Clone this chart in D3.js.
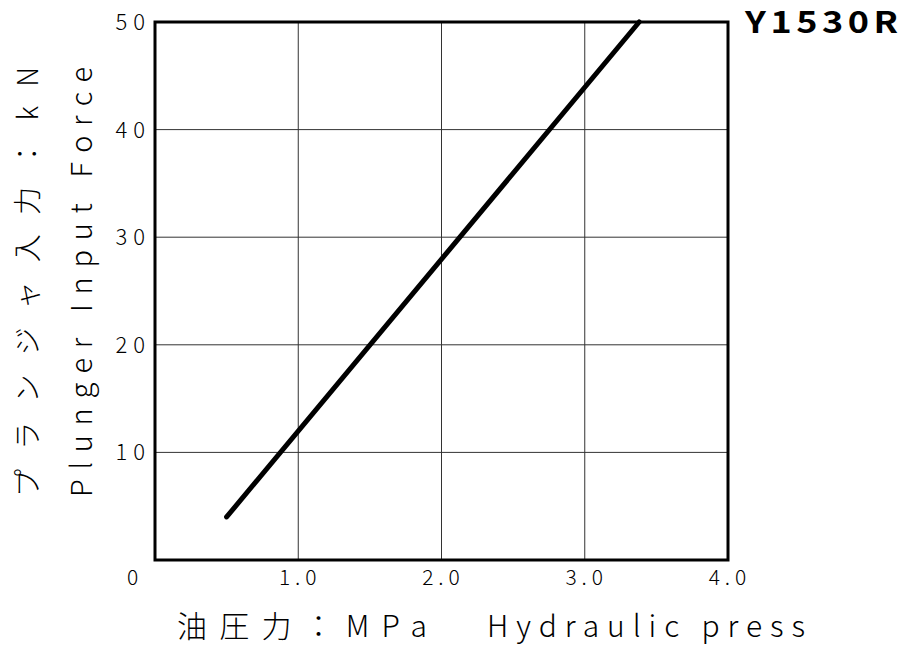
<!DOCTYPE html>
<html>
<head>
<meta charset="utf-8">
<script src="https://cdn.jsdelivr.net/npm/d3@7"></script>
<style>
  html, body { margin: 0; padding: 0; background: #fff; }
  svg { display: block; }
  text { font-family: "Noto Sans CJK JP", "DejaVu Sans", sans-serif; fill: #000; }
</style>
</head>
<body>
<svg id="chart" width="905" height="653"></svg>
<script>
// Hydraulic pressure (MPa) vs plunger input force (kN)
const pressure = [0.5, 3.38];
const force = [4, 50];
const xTicks = [0, 1, 2, 3, 4];
const xTickLabels = ["0", "1.0", "2.0", "3.0", "4.0"];
const yTicks = [10, 20, 30, 40, 50];
const yTickLabels = ["10", "20", "30", "40", "50"];
const modelName = "Y1530R";
const xTitleJa = "油圧力：MPa";
const xTitleEn = "Hydraulic press";
const yTitleJa = "プランジャ入力：kN";
const yTitleEn = "Plunger Input Force";

const svg = d3.select("#chart");
const plotLeft = 155, plotRight = 728, plotTop = 22, plotBottom = 560;

const x = d3.scaleLinear().domain([0, 4]).range([plotLeft, plotRight]);
const y = d3.scaleLinear().domain([0, 50]).range([plotBottom, plotTop]);

// grid
const g = svg.append("g");
g.selectAll("line.vx").data(xTicks.slice(1, -1)).join("line")
  .attr("x1", d => x(d)).attr("x2", d => x(d))
  .attr("y1", plotTop).attr("y2", plotBottom)
  .attr("stroke", "#333").attr("stroke-width", 1);
g.selectAll("line.hy").data(yTicks.slice(0, -1)).join("line")
  .attr("x1", plotLeft).attr("x2", plotRight)
  .attr("y1", d => y(d)).attr("y2", d => y(d))
  .attr("stroke", "#333").attr("stroke-width", 1);

// frame
svg.append("rect")
  .attr("x", plotLeft).attr("y", plotTop)
  .attr("width", plotRight - plotLeft).attr("height", plotBottom - plotTop)
  .attr("fill", "none").attr("stroke", "#000").attr("stroke-width", 3);

// x tick labels
svg.selectAll("text.xt").data(xTicks).join("text")
  .attr("x", (d, i) => i === 0 ? x(d) - 20 : x(d) + 2)
  .attr("y", 585)
  .attr("text-anchor", "middle")
  .attr("font-size", 21).attr("font-weight", 200)
  .attr("letter-spacing", 5)
  .text((d, i) => xTickLabels[i]);

// y tick labels
svg.selectAll("text.yt").data(yTicks).join("text")
  .attr("x", 151)
  .attr("y", d => y(d) + 8)
  .attr("text-anchor", "end")
  .attr("font-size", 22).attr("font-weight", 200)
  .attr("letter-spacing", 6)
  .text((d, i) => yTickLabels[i]);

// data line
const line = d3.line().x((d, i) => x(pressure[i])).y((d, i) => y(force[i]));
svg.append("path")
  .datum(pressure)
  .attr("d", line)
  .attr("fill", "none").attr("stroke", "#000")
  .attr("stroke-width", 5).attr("stroke-linecap", "round");

// model name (wide bold lettering)
svg.append("text")
  .attr("transform", "translate(745,33) scale(1.2,1)")
  .attr("font-family", "Liberation Sans, Arial, sans-serif")
  .attr("font-size", 30).attr("font-weight", "bold")
  .attr("letter-spacing", 3.8)
  .text(modelName);

// x axis title
svg.append("text")
  .attr("x", 177).attr("y", 637)
  .attr("font-size", 30).attr("font-weight", 200)
  .attr("textLength", 250).attr("lengthAdjust", "spacing")
  .text(xTitleJa);
svg.append("text")
  .attr("x", 487).attr("y", 637)
  .attr("font-size", 30).attr("font-weight", 200)
  .attr("textLength", 318).attr("lengthAdjust", "spacing")
  .text(xTitleEn);

// y axis titles (rotated)
svg.append("text")
  .attr("transform", "translate(38,497) rotate(-90)")
  .attr("font-size", 28).attr("font-weight", 200)
  .attr("textLength", 430).attr("lengthAdjust", "spacing")
  .text(yTitleJa);
svg.append("text")
  .attr("transform", "translate(92,497) rotate(-90)")
  .attr("font-size", 29).attr("font-weight", 200)
  .attr("textLength", 430).attr("lengthAdjust", "spacing")
  .text(yTitleEn);
</script>
</body>
</html>
